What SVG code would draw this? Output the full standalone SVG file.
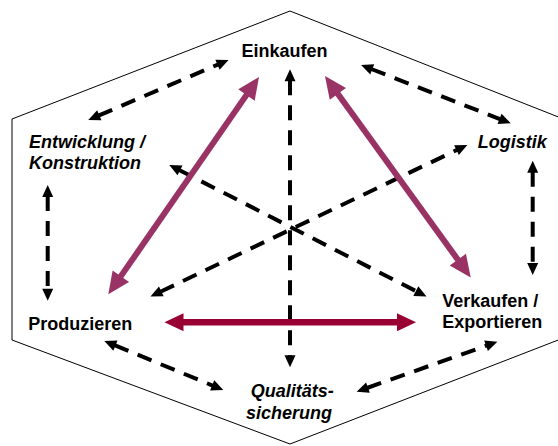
<svg xmlns="http://www.w3.org/2000/svg" width="558" height="446" viewBox="0 0 558 446">
<style>
  .lbl { font-family: "Liberation Sans", Arial, sans-serif; font-weight: bold; font-size: 18px; fill: #000; }
  .it { font-style: italic; }
  .dash { stroke: #000; stroke-width: 4; stroke-dasharray: 15 10; fill: none; marker-start: url(#ab); marker-end: url(#ab); }
  .purple { stroke: #993366; stroke-width: 6; fill: none; marker-start: url(#ap); marker-end: url(#ap); }
  .red { stroke: #990033; stroke-width: 6.5; fill: none; marker-start: url(#ar); marker-end: url(#ar); }
</style>
<defs>
  <marker id="ab" markerUnits="userSpaceOnUse" markerWidth="12" markerHeight="11" refX="1" refY="5.5" orient="auto-start-reverse" overflow="visible">
    <path d="M0,0 L12,5.5 L0,11 z" fill="#000"/>
  </marker>
  <marker id="ap" markerUnits="userSpaceOnUse" markerWidth="22" markerHeight="20" refX="2" refY="10" orient="auto-start-reverse" overflow="visible">
    <path d="M0,0 L22,10 L0,20 z" fill="#993366"/>
  </marker>
  <marker id="ar" markerUnits="userSpaceOnUse" markerWidth="19" markerHeight="18" refX="1" refY="9" orient="auto-start-reverse" overflow="visible">
    <path d="M0,0 L19,9 L0,18 z" fill="#990033"/>
  </marker>
</defs>
<rect width="558" height="446" fill="#fff"/>
<polygon id="hexagon" points="290,11 566,120 566,337 290,444 12,340 12,119" fill="none" stroke="#000" stroke-width="1"/>
<g id="connectors">
  <line class="dash" x1="98.4" y1="115.7" x2="218.4" y2="64.3"/>
  <line class="dash" x1="371.3" y1="69" x2="500.5" y2="119.3"/>
  <line class="dash" x1="532.7" y1="171.7" x2="532.7" y2="264"/>
  <line class="dash" x1="47.7" y1="196" x2="47.7" y2="289.7"/>
  <line class="dash" x1="114.5" y1="345.2" x2="213.1" y2="385.8"/>
  <line class="dash" x1="367" y1="388" x2="487" y2="345.4"/>
  <line class="dash" x1="290" y1="80.3" x2="290" y2="356.3"/>
  <line class="dash" x1="179.1" y1="170" x2="416.7" y2="291.5"/>
  <line class="dash" x1="160.4" y1="291.8" x2="457.4" y2="149.7"/>
  <line class="purple" x1="119.7" y1="277.9" x2="247.6" y2="93.4"/>
  <line class="purple" x1="336.7" y1="92.2" x2="459" y2="261.3"/>
  <line class="red" x1="182.5" y1="322.3" x2="398" y2="322.3"/>
</g>
<g id="einkaufen"><text class="lbl" x="284.5" y="57.3" text-anchor="middle">Einkaufen</text></g>
<g id="entwicklung"><text class="lbl it" x="29" y="147.5">Entwicklung /</text><text class="lbl it" x="29" y="169">Konstruktion</text></g>
<g id="logistik"><text class="lbl it" x="477.7" y="148.3">Logistik</text></g>
<g id="produzieren"><text class="lbl" x="28.3" y="330">Produzieren</text></g>
<g id="verkaufen"><text class="lbl" x="442.3" y="306.7">Verkaufen /</text><text class="lbl" x="442.3" y="328.3">Exportieren</text></g>
<g id="qualitaet"><text class="lbl it" x="250.7" y="396.7">Qualitäts-</text><text class="lbl it" x="246" y="419.3">sicherung</text></g>
</svg>
